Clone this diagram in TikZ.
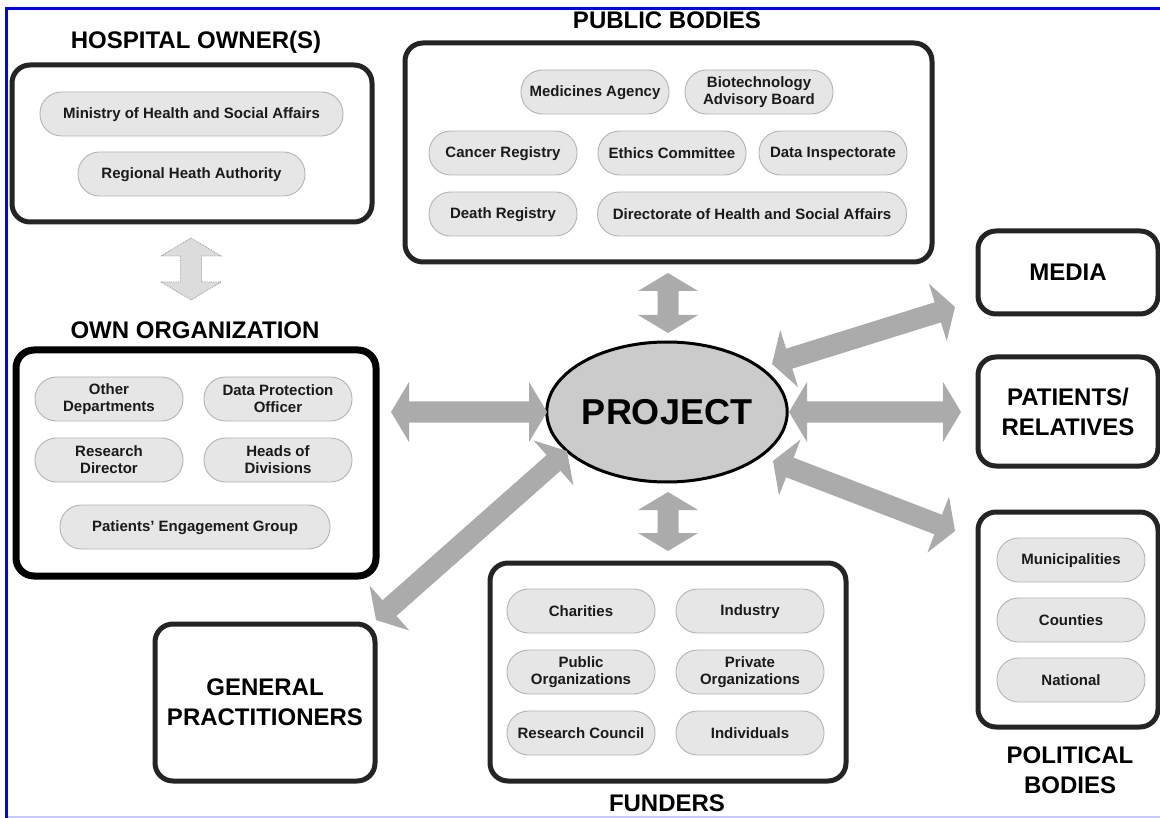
\documentclass[tikz,border=0pt]{standalone}
\usepackage{fontspec}
\setmainfont{Liberation Sans}
\usetikzlibrary{calc,shapes.geometric}
\definecolor{arrowgray}{HTML}{ABABAB}
\definecolor{pillfill}{HTML}{E6E6E6}
\definecolor{pillborder}{HTML}{B4B4B4}
\definecolor{pilltext}{HTML}{1A1A1A}
\definecolor{boxline}{HTML}{242424}
\definecolor{projfill}{HTML}{CBCBCB}
\definecolor{framelav}{HTML}{C8C8FF}
\definecolor{dashfill}{HTML}{DCDCDC}
\definecolor{dashline}{HTML}{9A9A9A}
\newcommand\pillfont{\fontsize{15}{17}\selectfont\bfseries}
\newcommand\titlefont{\fontsize{24}{30}\selectfont\bfseries}
\def\AL{18pt}
\def\AH{30pt}
\def\AS{10.5pt}
\newcommand\bigdarrow[3][]{%
  \path[#1] (#2) -- ($(#2)!\AL!(#3)!\AH!90:(#3)$) -- ($(#2)!\AL!(#3)!\AS!90:(#3)$)
   -- ($(#3)!\AL!(#2)!\AS!-90:(#2)$) -- ($(#3)!\AL!(#2)!\AH!-90:(#2)$) -- (#3)
   -- ($(#3)!\AL!(#2)!\AH!90:(#2)$) -- ($(#3)!\AL!(#2)!\AS!90:(#2)$)
   -- ($(#2)!\AL!(#3)!\AS!-90:(#3)$) -- ($(#2)!\AL!(#3)!\AH!-90:(#3)$) -- cycle;}
\tikzset{
  bigbox/.style={draw=boxline, line width=5pt, rounded corners=18pt, fill=white, inner sep=0pt},
  pill/.style={draw=pillborder, fill=pillfill, line width=0.9pt, rounded corners=21.5pt,
    minimum width=148pt, minimum height=44pt, inner sep=0pt, align=center, font=\pillfont, text=pilltext,
    execute at begin node=\rule{0pt}{12pt}, execute at end node=\rule[-1.3pt]{0pt}{1.3pt}},
  title/.style={font=\titlefont, text=black, align=center, inner sep=0pt},
  fatarrow/.style={fill=arrowgray},
  dasharrow/.style={fill=dashfill, draw=dashline, densely dotted, line width=0.8pt}
}
\begin{document}
\begin{tikzpicture}[x=1pt,y=-1pt]
\useasboundingbox (0,0) rectangle (1160,818);
\fill[white] (0,0) rectangle (1160,818);
% frame
\draw[blue, line width=3pt] (6.5,818) -- (6.5,8.5) -- (1160,8.5);
\draw[framelav, line width=2pt] (8,816.5) -- (1160,816.5);

% titles
\node[title] (tho) at (196,42) {HOSPITAL OWNER(S)};
\node[title] (too) at (195,330) {OWN ORGANIZATION};
\node[title] (tpb) at (667,20) {PUBLIC BODIES};
\node[title] (tfu) at (667,803) {FUNDERS};
\node[title] (tpo) at (1070,770) {POLITICAL\\BODIES};

% big boxes
\node[bigbox, minimum width=360pt, minimum height=157pt] (ho) at (192,143.5) {};
\node[bigbox, line width=7pt, draw=black, minimum width=360pt, minimum height=226pt] (oo) at (196,463) {};
\node[bigbox, minimum width=527pt, minimum height=219pt] (pb) at (668.5,152.5) {};
\node[bigbox, minimum width=180pt, minimum height=83pt, font=\titlefont] (md) at (1068,272.5) {MEDIA};
\node[bigbox, minimum width=180pt, minimum height=109pt, font=\titlefont, align=center] (pr) at (1068,411.5) {PATIENTS/\\RELATIVES};
\node[bigbox, minimum width=180pt, minimum height=215pt] (po) at (1068,619.5) {};
\node[bigbox, minimum width=220pt, minimum height=157pt, font=\titlefont, align=center] (gp) at (265,702.5) {GENERAL\\PRACTITIONERS};
\node[bigbox, minimum width=356pt, minimum height=218pt] (fu) at (668,672) {};

% hospital owner pills
\node[pill, minimum width=303pt] (ho1) at (191.5,114) {Ministry of Health and Social Affairs};
\node[pill, minimum width=227pt] (ho2) at (191.5,174) {Regional Heath Authority};

% public bodies pills
\node[pill] (pb1) at (595,92) {Medicines Agency};
\node[pill] (pb2) at (759,92) {Biotechnology\\Advisory Board};
\node[pill] (pb3) at (503,153) {Cancer Registry};
\node[pill] (pb4) at (672,153) {Ethics Committee};
\node[pill] (pb5) at (833,153) {Data Inspectorate};
\node[pill] (pb6) at (503,214) {Death Registry};
\node[pill, minimum width=309pt] (pb7) at (752,214) {Directorate of Health and Social Affairs};

% own organization pills
\node[pill] (oo1) at (109,399) {Other\\Departments};
\node[pill] (oo2) at (278,399) {Data Protection\\Officer};
\node[pill] (oo3) at (109,460) {Research\\Director};
\node[pill] (oo4) at (278,460) {Heads of\\Divisions};
\node[pill, minimum width=270pt] (oo5) at (195,527) {Patients' Engagement Group};

% funders pills
\node[pill] (fu1) at (581,611) {Charities};
\node[pill] (fu2) at (750,611) {Industry};
\node[pill] (fu3) at (581,672) {Public\\Organizations};
\node[pill] (fu4) at (750,672) {Private\\Organizations};
\node[pill] (fu5) at (581,733) {Research Council};
\node[pill] (fu6) at (750,733) {Individuals};

% political pills
\node[pill] (po1) at (1071,560) {Municipalities};
\node[pill] (po2) at (1071,620) {Counties};
\node[pill] (po3) at (1071,680) {National};

% project
\node[ellipse, draw=black, line width=3pt, fill=projfill, minimum width=228pt, minimum height=140pt,
  inner sep=0pt, font=\fontsize{36}{40}\selectfont\bfseries] (pj) at (667,412) {PROJECT};

% arrow end coordinates
\coordinate (ds1) at (191,238);  \coordinate (ds2) at (191,300);
\coordinate (up1) at (668,273);  \coordinate (up2) at (668,333);
\coordinate (dn1) at (668,492);  \coordinate (dn2) at (668,551);
\coordinate (lf1) at (391,412);  \coordinate (lf2) at (547,412);
\coordinate (gp1) at (567,451);  \coordinate (gp2) at (376,620);
\coordinate (md1) at (772,364);  \coordinate (md2) at (955,307);
\coordinate (pr1) at (789,412);  \coordinate (pr2) at (961,412);
\coordinate (pl1) at (773,461);  \coordinate (pl2) at (955,531);

\bigdarrow[dasharrow]{ds1}{ds2}
\bigdarrow[fatarrow]{up1}{up2}
\bigdarrow[fatarrow]{dn1}{dn2}
\bigdarrow[fatarrow]{lf1}{lf2}
\bigdarrow[fatarrow]{gp1}{gp2}
\bigdarrow[fatarrow]{md1}{md2}
\bigdarrow[fatarrow]{pr1}{pr2}
\bigdarrow[fatarrow]{pl1}{pl2}
\end{tikzpicture}
\end{document}
